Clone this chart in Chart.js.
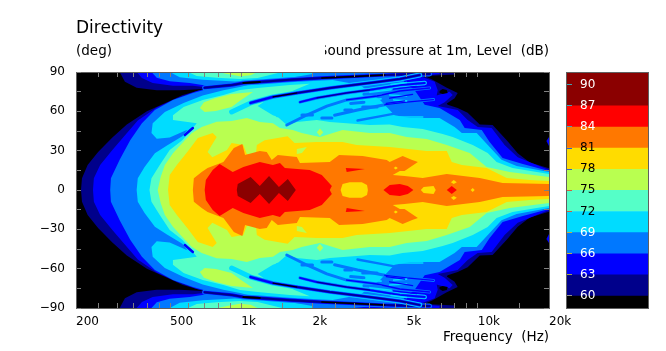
<!DOCTYPE html>
<html><head><meta charset="utf-8">
<script src="https://cdn.jsdelivr.net/npm/chart.js@4"></script>
<style>html,body{margin:0;padding:0;background:#fff;overflow:hidden}
#main{position:absolute;left:0;top:0}
#barwrap{position:absolute;left:566px;top:72px;width:83px;height:237px;box-sizing:border-box;border:1px solid #606060}
#bar{display:block}</style></head><body>
<canvas id="main" width="666" height="351"></canvas>
<div id="barwrap"><canvas id="bar" width="81" height="235"></canvas></div>
<script>
const FONT='"DejaVu Sans"';
const levelValues=[60,63,66,69,72,75,78,81,84,87];
const levelColors=['#00008b','#0000ff','#0078ff','#00dcff','#55ffc8','#b9ff50','#ffdc00','#ff7800','#ff0000','#8b0000'];
const colorbarLabels=[60,63,66,69,72,75,78,81,84,87,90];
const freqTicks=[200,250,300,350,400,450,500,600,700,800,900,1000,1500,2000,2500,3000,3500,4000,4500,5000,6000,7000,8000,9000,10000,15000,20000];
const freqLabels={200:'200',500:'500',1000:'1k',2000:'2k',5000:'5k',10000:'10k',20000:'20k'};

// contours of the upper half, [Hz, deg]; the measurement is mirrored about 0 deg
const c60=[[210,0],[212,9],[224,19],[248,29],[285,40],[328,50],[399,60],[485,67],[565,72.5],[668,76],[700,77],[549,76],[439,76],[361,78],[322,82.5],[306,90],[7980,90],[7980,88],[5960,87],[6440,84],[7390,78],[8220,74],[7980,70],[7390,66],[7460,65],[8220,62.5],[9060,59],[10190,50],[11550,49.6],[13250,38],[14750,28],[16580,21],[20000,16.5],[20000,0]];
const c63=[[236,0],[238,9],[253,19],[285,30.5],[323,42],[365,53],[439,63],[534,70],[648,75.5],[735,78],[624,79.5],[514,79.5],[422,81.6],[380,85.5],[361,90],[6890,90],[6890,88.5],[5680,87],[6570,82.5],[6770,76],[6700,72],[7600,75],[7830,72.5],[7240,67],[6770,64],[8220,61],[9060,53.4],[9990,48],[11440,47.3],[12980,34.3],[14750,25],[20000,15.3],[20000,0]];
const c66=[[279,0],[281,9],[306,23],[339,38],[380,51],[431,61],[514,68.6],[624,74],[772,78.6],[605,81.6],[498,83],[439,85.7],[417,90],[2960,90],[3650,88.5],[4680,85.5],[5410,76],[5960,65],[6890,62.6],[8390,53.4],[8800,47.3],[10390,45.8],[11220,36.6],[12730,24.4],[15500,19.8],[20000,14.5],[20000,0]];
const c69=[[361,0],[365,9],[390,17.5],[431,28],[485,34],[563,41],[591,46],[498,40],[439,39],[417,43.5],[422,51],[475,59.5],[570,66.4],[687,72],[840,76],[987,78.6],[1197,82.4],[1603,84],[2190,85.5],[3170,80],[3860,68.6],[4450,57],[5180,55],[6890,55],[7980,48],[8560,43.5],[9890,43.5],[11220,32.8],[12600,23],[14600,18.3],[20000,13.7],[20000,0]];
const c72=[[409,0],[417,9],[452,19],[498,30.5],[563,38],[624,47.3],[648,51],[583,52],[514,53.4],[514,57],[570,63.3],[687,68.7],[840,72.5],[987,76.3],[1172,77.8],[1603,80],[1947,81],[1603,74.8],[1320,70.2],[1172,64],[1360,57],[1427,55.7],[1557,49.6],[1717,51.9],[2085,53.4],[2366,51.9],[2790,51],[3490,49.6],[4240,50],[4810,48],[5850,46.5],[7100,42.7],[7830,40.4],[9520,34.3],[11010,28.2],[12010,21.4],[14020,16.8],[20000,12.2],[20000,0]];
const c75=[[443,0],[456,10],[475,19],[514,28],[577,38],[618,43.5],[680,48],[787,52],[910,52.6],[1055,55],[1197,51.9],[1360,51],[1457,47.3],[1650,45.8],[1800,43.5],[2150,40.4],[2680,45.8],[3490,43.5],[4240,43.5],[5000,40.4],[6080,38.9],[7390,34.3],[9240,28.2],[10900,17.5],[13650,13.7],[20000,10],[20000,0]];
const c78=[[490,0],[498,11.4],[534,19],[591,29],[655,39.7],[757,43.5],[787,40.4],[720,29],[754,25],[870,30.5],[910,35.9],[1020,34.3],[1055,27.5],[1151,26],[1163,34.3],[1255,38],[1570,41],[1680,35.9],[2085,36.6],[2680,36.6],[3075,34.3],[4240,32.8],[6080,29.8],[7390,29.8],[7760,21.4],[8560,19],[10900,16.8],[13250,9.2],[16580,7.6],[20000,6.9],[20000,0]];
const c81=[[624,0],[630,9],[680,13.7],[720,16.8],[840,21.4],[930,32],[1010,35],[1037,26.7],[1197,29.8],[1281,29],[1345,22.9],[1427,26.7],[1717,25.2],[1770,20.6],[2366,21.4],[2590,26.7],[3260,26],[4120,22.9],[4240,21.4],[4810,26],[5280,22.9],[5580,21.4],[4900,14.5],[4680,14.5],[4370,11.4],[4900,10.7],[5850,9.2],[7390,12.2],[10190,9.2],[12730,5.3],[20000,4.6],[20000,0]];
const c84=[[700,0],[708,7.6],[757,15.3],[810,19.8],[920,13.7],[1020,17.5],[1197,21.4],[1360,19],[1457,20.6],[1528,16.8],[1947,15.3],[2190,11.4],[2415,3],[2366,0]];
const c87=[[957,0],[966,4.6],[1095,10],[1197,3],[1310,10.7],[1442,2.3],[1573,8.4],[1700,0]];
// separate closed regions
const top69=[[498,90],[549,86],[687,84],[987,82.6],[1450,84],[2000,88.5],[2000,90]];
const top72=[[595,90],[648,87],[787,85.7],[987,84.7],[1172,85.5],[1486,90]];
const top75=[[795,90],[870,88.5],[987,86.7],[1095,87.5],[1172,90]];
const lobe75=[[668,62.6],[695,67],[780,70.2],[910,73.2],[1120,74.8],[987,68],[910,63.3],[780,60.3],[700,59.5]];
const hole=[[6890,75.5],[7100,77],[7390,76.3],[7460,74],[7100,73.2],[6890,74]];
const edge63=[[19500,37.4],[20000,40.4],[20000,33.6]];
const notch75=[[1717,31.3],[1892,32.8],[1805,28.2],[1717,27.5]];
const red1=[[3990,0],[4240,3.8],[4680,4.6],[5060,3],[5340,0]];
const red2=[[2765,16.8],[3330,16],[2790,13.7]];
const red3=[[7390,0],[7760,3],[8150,0]];
const yel1=[[2630,0],[2680,4.6],[2870,6],[3230,6],[3400,3.8],[3430,0]];
const yel2=[[5740,0],[5900,2.3],[6500,3],[6640,0]];
const yel3=[[7700,6],[7910,7.6],[8150,6],[7910,4.6]];
const yel4=[[9320,0],[9520,1.5],[9700,0]];
const yel5=[[4410,16.8],[4497,18],[4590,16.8],[4497,15.7]];
const lime1=[[1557,31],[1590,33],[1620,31],[1590,29]];
const lime2=[[2085,44],[2150,47],[2220,44],[2150,41]];
// nulls between the lobes, [Hz, deg]
const null1=[[700,78],[910,80],[1020,81.6],[1197,82.4],[1603,84],[2190,85.5],[3015,86.6],[4040,87.7],[4680,88],[6250,88.5]];
const null2=[[910,59.5],[1095,66.4],[1360,71],[1717,74],[2366,77.8],[3750,82.4],[4680,84.7],[5680,87.7]];
const null3=[[1427,57.2],[1770,67],[2085,70.2],[2790,74],[3490,76.3],[4680,80],[5960,81.6]];
const null4=[[1557,49.6],[1892,57.2],[2300,64],[2790,68.7],[3750,71.7],[4680,75.5],[6250,77.8]];
const null5=[[2480,57],[3100,61],[4040,65],[5000,67],[6500,69]];
const null6=[[3100,53],[3800,56],[4680,59],[5700,60.5]];
const sliver=[[577,42],[624,47.3]];
const blobs66=[[[1805,57.2],[2000,57.2]],[[2190,55],[2415,55]],[[2740,61],[2930,61]],[[3260,63.3],[3750,63.3]],[[4240,63.3],[5850,64]],[[4810,60],[6890,60]],[[3300,73],[3900,74]],[[2900,66],[3300,67]]];
const streaks69=[[[4240,72.5],[5000,71.7]],[[4410,68.7],[5000,68]],[[4680,55.7],[5850,55.7]],[[3300,68.5],[3900,69.5]],[[3500,74.5],[4300,76.5]],[[4300,80.5],[5000,82]]];
const streaks63=[[[4100,66],[4900,68]],[[4240,70],[5300,73]],[[4400,77],[5500,79]]];

const pts=a=>a.map(p=>({x:p[0],y:p[1]}));
const mir=a=>a.map(p=>[p[0],-p[1]]);
const both=a=>a.concat(mir(a).reverse());
const ds=[];
const poly=(a,c)=>ds.push({polygon:true,data:pts(a),showLine:false,backgroundColor:c,pointRadius:0,pointHoverRadius:0});
const axisPoly=(a,l)=>poly(both(a),levelColors[l]);
const island=(a,l,col)=>{const c=col||levelColors[l];poly(a,c);poly(mir(a),c);};
const line=(a,l,w,col)=>{const c=col||levelColors[l];[a,mir(a)].forEach(d=>ds.push({data:pts(d),showLine:true,fill:false,borderColor:c,borderWidth:w,borderCapStyle:'round',borderJoinStyle:'round',pointRadius:0,pointHoverRadius:0,tension:0}));};

axisPoly(c60,0);axisPoly(c63,1);axisPoly(c66,2);
island(top69,3);axisPoly(c69,3);
island(top72,4);axisPoly(c72,4);
island(top75,5);island(lobe75,5);
island(edge63,1);
// nulls, widest band first
line(null1,2,5);line(null1,1,3.2);line(null1,0,2);line(null1.slice(2,4),0,2,'#000');line(null1.slice(5,8),0,1.5,'#000');
line(null2,3,5);line(null2.slice(1),2,3.6);line(null2.slice(1),1,2.4);line(null2.slice(2),0,1.4);line(null2.slice(2,4),0,1,'#000');
line(null3,3,4.5);line(null3.slice(1),2,3);line(null3.slice(1),1,1.8);line(null3.slice(2,5),0,1);
line(null4,2,3);line(null4.slice(3),1,1.4);
line(null5,2,3);line(null5.slice(2),1,1.2);
line(null6,2,2.4);
blobs66.forEach(b=>line(b,2,3));
streaks69.forEach(b=>line(b,3,1.6));
streaks63.forEach(b=>line(b,1,1.3));
line(sliver,1,2.5);
island(hole,0,'#000');
axisPoly(c75,5);island(lime1,5);island(lime2,5);
axisPoly(c78,6);island(notch75,5);
axisPoly(c81,7);island(yel5,6);
axisPoly(c84,8);island(red2,8);axisPoly(red1,8);axisPoly(red3,8);
axisPoly(yel1,6);axisPoly(yel2,6);island(yel3,6);axisPoly(yel4,6);
axisPoly(c87,9);
ds.forEach((d,i)=>{d.order=-i;});

const polygonFill={id:'polygonFill',
 beforeDatasetsDraw(chart){const a=chart.chartArea,c=chart.ctx;c.save();c.fillStyle='#000';c.fillRect(a.left,a.top,a.right-a.left,a.bottom-a.top);c.restore();},
 beforeDatasetDraw(chart,args){const d=chart.data.datasets[args.index];if(!d.polygon)return;
  const a=chart.chartArea,c=chart.ctx,el=args.meta.data;c.save();c.beginPath();c.rect(a.left,a.top,a.right-a.left,a.bottom-a.top);c.clip();
  c.beginPath();el.forEach((p,i)=>{i?c.lineTo(p.x,p.y):c.moveTo(p.x,p.y);});c.closePath();c.fillStyle=d.backgroundColor;c.fill();c.restore();}};
const captions={id:'captions',afterDraw(chart){const c=chart.ctx,a=chart.chartArea;c.save();c.font='13.5px '+FONT;c.fillStyle='#000';c.textBaseline='middle';
  c.textAlign='left';c.fillText('(deg)',a.left,51);
  c.beginPath();c.rect(325,40,300,24);c.clip();c.textAlign='right';c.fillText('Sound pressure at 1m, Level  (dB)',a.right,51);c.restore();}};

const setTicks=s=>{s.ticks=freqTicks.map(v=>({value:v}));};
const gridOpt={drawOnChartArea:false,drawTicks:true,tickLength:-5,tickColor:'#808080',lineWidth:1,z:1};
const borderOpt={display:true,color:'#606060',width:1,z:1};
new Chart(document.getElementById('main'),{type:'scatter',data:{datasets:ds},plugins:[polygonFill,captions],options:{
 responsive:false,animation:false,events:[],layout:{padding:0},
 plugins:{legend:{display:false},tooltip:{enabled:false},
  title:{display:true,text:'Directivity',align:'start',fullSize:false,color:'#000',font:{family:FONT,size:17,weight:'normal',lineHeight:1.2},padding:{top:18,bottom:0}}},
 scales:{
  x:{type:'logarithmic',position:'bottom',min:200,max:20000,afterBuildTicks:setTicks,afterFit(s){s.height=351-308;},grid:gridOpt,border:borderOpt,
   ticks:{autoSkip:false,maxRotation:0,minRotation:0,align:'start',padding:12,color:'#000',font:{family:FONT,size:12},callback:v=>freqLabels[v]||''},
   title:{display:true,text:'Frequency  (Hz)',align:'end',color:'#000',font:{family:FONT,size:13.5},padding:{top:0,bottom:5}}},
  xTop:{type:'logarithmic',position:'top',min:200,max:20000,afterBuildTicks:setTicks,afterFit(s){s.height=72-38.4;},grid:gridOpt,border:borderOpt,ticks:{autoSkip:false,callback:()=>''}},
  y:{type:'linear',position:'left',min:-90,max:90,afterFit(s){s.width=76;},grid:gridOpt,border:borderOpt,
   ticks:{stepSize:15,autoSkip:false,padding:16,color:'#000',font:{family:FONT,size:12},callback:v=>v%30===0?String(v).replace('-','\u2212'):''}},
  yRight:{type:'linear',position:'right',min:-90,max:90,afterFit(s){s.width=666-549;},grid:gridOpt,border:borderOpt,ticks:{stepSize:15,autoSkip:false,callback:()=>''}}
 }}});

// colour bar
const bandEdges=[58.29,60,63,66,69,72,75,78,81,84,87,91.67];
const barColors=['#000'].concat(levelColors);
const barTickColors=['#909090','#a0a050','#c0b040','#c0b040','#d06040','#d06040','#4060c0','#3060d0','#40a0c0','#40a0b0','#40a0b0'];
const barTextColors=['#fff','#fff','#fff','#fff','#000','#000','#000','#000','#fff','#fff','#fff'];
new Chart(document.getElementById('bar'),{type:'bar',
 data:{labels:['level'],datasets:barColors.map((c,i)=>({data:[[bandEdges[i],bandEdges[i+1]]],backgroundColor:c,barPercentage:1,categoryPercentage:1,grouped:false,borderWidth:0}))},
 options:{responsive:false,animation:false,events:[],layout:{padding:0},plugins:{legend:{display:false},tooltip:{enabled:false}},
  datasets:{bar:{grouped:false}},
  scales:{x:{display:false},
   y:{min:58.29,max:91.67,position:'left',afterBuildTicks(s){s.ticks=colorbarLabels.map(v=>({value:v}));},afterFit(s){s.width=0;s.paddingTop=0;s.paddingBottom=0;},
    border:{display:false},grid:{drawOnChartArea:false,drawTicks:true,tickLength:-5,tickColor:c=>barTickColors[c.index],z:1},
    ticks:{mirror:true,z:1,padding:13,color:c=>barTextColors[c.index],font:{family:FONT,size:12},autoSkip:false,callback:v=>String(v)}}}}});
</script></body></html>
